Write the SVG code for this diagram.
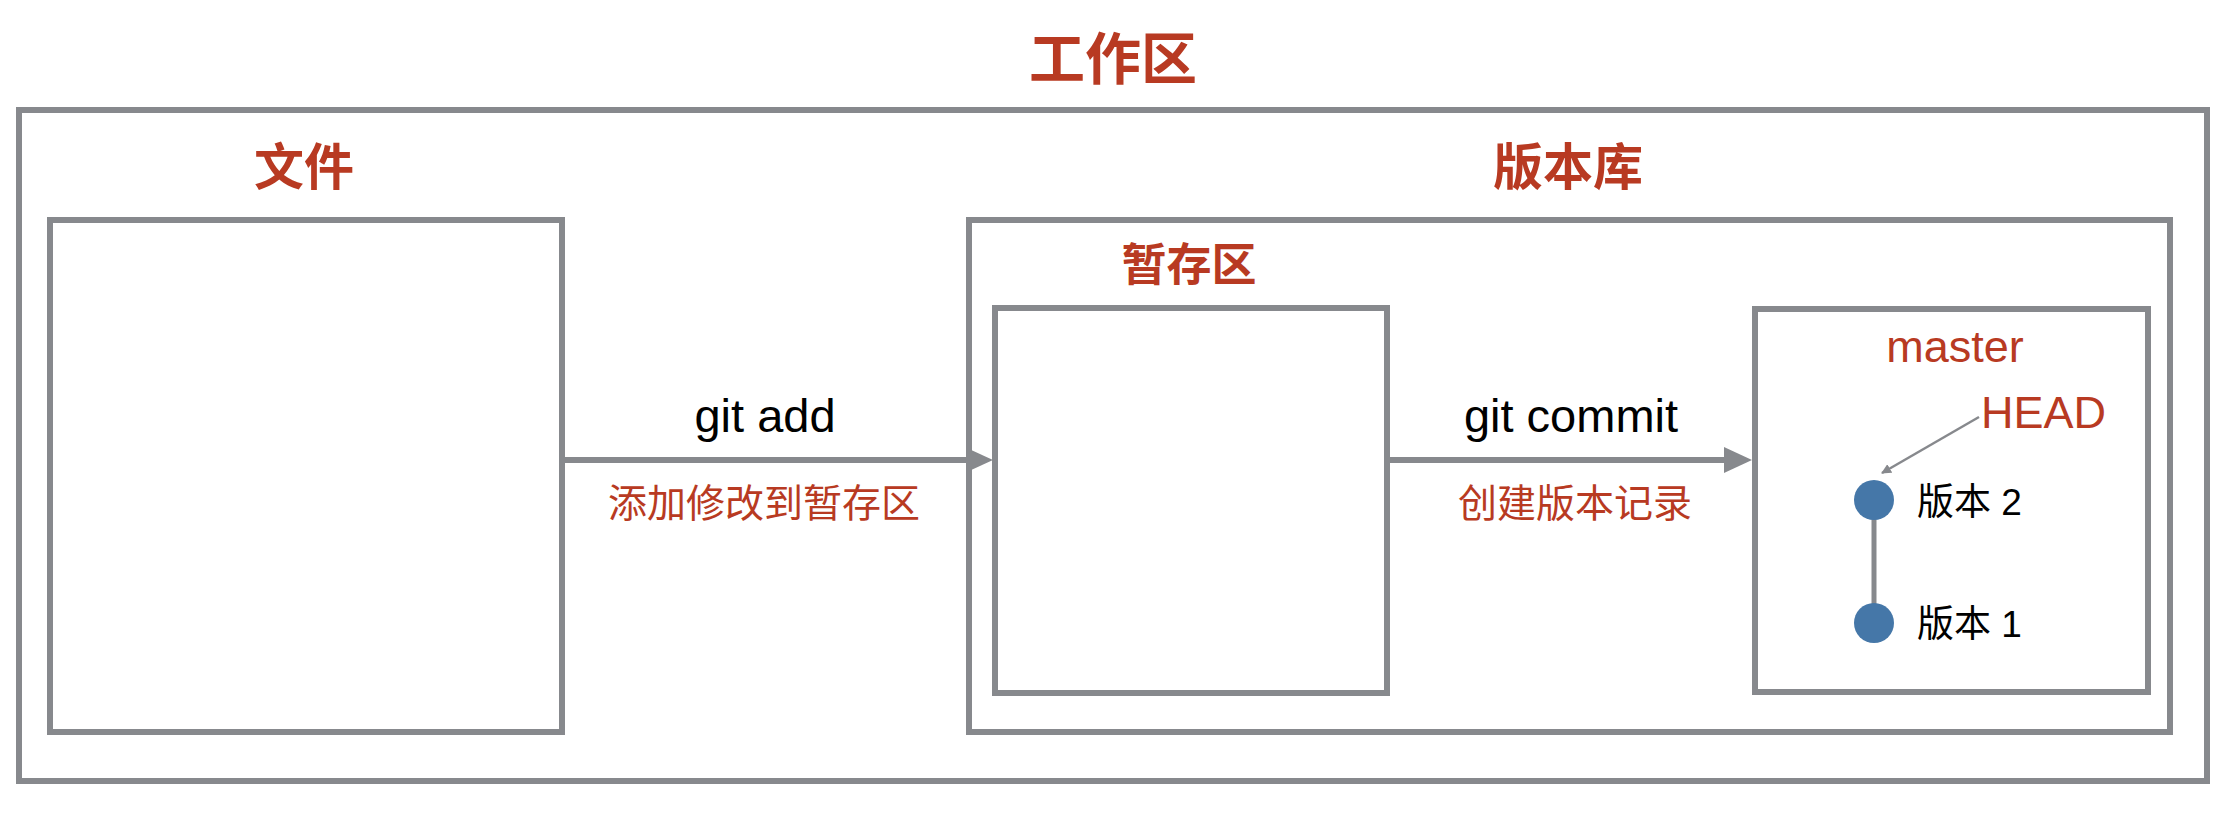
<svg xmlns="http://www.w3.org/2000/svg" width="2224" height="817" viewBox="0 0 2224 817">
<defs>
<style>
.box{fill:none;stroke:#87898d;stroke-width:6}
.title{font-family:"Liberation Sans","Noto Sans CJK SC",sans-serif;fill:#b83a22;font-weight:bold;text-anchor:middle}
.lbl{font-family:"Liberation Sans","Noto Sans CJK SC",sans-serif;fill:#000;text-anchor:middle}
.red{fill:#b83a22}
.conn{stroke:#87898d;stroke-width:6;fill:none}
.dot{fill:#4577a8}
</style>
<marker id="thin" markerWidth="10" markerHeight="10" refX="9" refY="5" orient="auto" markerUnits="userSpaceOnUse" viewBox="0 0 10 10">
<path d="M0,0 L10,5 L0,10 z" fill="#87898d"/>
</marker>
</defs>
<rect width="2224" height="817" fill="#fff"/>
<g id="workspace">
<rect class="box" x="19" y="110" width="2188" height="671"/>
<text class="title" x="1113" y="79" font-size="56">工作区</text>
</g>
<g id="files">
<rect class="box" x="50" y="220" width="512" height="512"/>
<text class="title" x="304" y="185" font-size="50">文件</text>
</g>
<g id="repository">
<rect class="box" x="969" y="220" width="1201" height="512"/>
<text class="title" x="1568" y="185" font-size="50">版本库</text>
</g>
<g id="stage">
<rect class="box" x="995" y="308" width="392" height="385"/>
<text class="title" x="1189" y="281" font-size="45">暂存区</text>
</g>
<g id="history">
<rect class="box" x="1755" y="309" width="393" height="383"/>
<text class="lbl red" x="1955" y="362" font-size="45">master</text>
<text class="lbl red" x="1981" y="428" font-size="45" text-anchor="start" style="text-anchor:start">HEAD</text>
</g>
<g id="connectors">
<line class="conn" x1="562" y1="460" x2="972" y2="460"/>
<path d="M969,449 L993,460 L969,471 z" fill="#87898d"/>
<line class="conn" x1="1387" y1="460" x2="1726" y2="460"/>
<path d="M1724,447 L1752,460 L1724,473 z" fill="#87898d"/>
<line x1="1979" y1="417" x2="1882" y2="473" stroke="#87898d" stroke-width="2.5" marker-end="url(#thin)"/>
<line x1="1874" y1="500" x2="1874" y2="623" stroke="#87898d" stroke-width="5"/>
</g>
<g id="labels">
<text class="lbl" x="765" y="432" font-size="47">git add</text>
<text class="lbl red" x="764" y="517" font-size="39">添加修改到暂存区</text>
<text class="lbl" x="1571" y="432" font-size="47">git commit</text>
<text class="lbl red" x="1575" y="517" font-size="39">创建版本记录</text>
</g>
<g id="v2">
<circle class="dot" cx="1874" cy="500" r="20"/>
<text class="lbl" x="1917" y="515" font-size="37" style="text-anchor:start">版本 2</text>
</g>
<g id="v1">
<circle class="dot" cx="1874" cy="623" r="20"/>
<text class="lbl" x="1917" y="637" font-size="37" style="text-anchor:start">版本 1</text>
</g>
</svg>
